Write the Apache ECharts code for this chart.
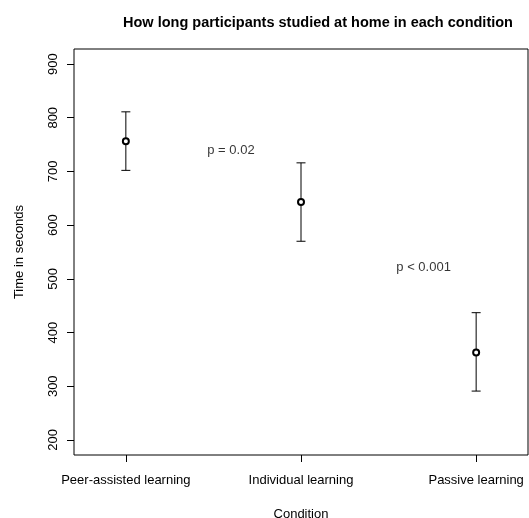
<!DOCTYPE html>
<html>
<head>
<meta charset="utf-8">
<script src="https://cdn.jsdelivr.net/npm/echarts@6/dist/echarts.min.js"></script>
<style>
  html, body { margin: 0; padding: 0; background: #fff; }
  #chart { width: 529px; height: 518px; }
</style>
</head>
<body>
<div id="chart"></div>
<script>
// Study time per condition: mean with lower/upper bounds
const conditions = ['Peer-assisted learning', 'Individual learning', 'Passive learning'];
const meanTime = [756, 643, 363];
const lowerTime = [702, 570, 291];
const upperTime = [811, 716, 437];
const yTicks = [200, 300, 400, 500, 600, 700, 800, 900];

// p-value annotations placed between conditions (x in condition units, y in seconds)
const pLabels = ['p = 0.02', 'p < 0.001'];
const pLabelX = [1.6, 2.7];
const pLabelY = [740, 521];

const FONT = 'Liberation Sans, Arial, sans-serif';
const chart = echarts.init(document.getElementById('chart'), null, { renderer: 'canvas' });

const xPos = conditions.map((_, i) => i + 1);

const option = {
  animation: false,
  backgroundColor: '#fff',
  textStyle: { fontFamily: FONT, color: '#000' },
  title: {
    text: 'How long participants studied at home in each condition',
    left: 313, top: 10, textAlign: 'center',
    textStyle: { fontFamily: FONT, fontSize: 14.5, fontWeight: 'bold', color: '#000' }
  },
  grid: {
    left: 74, right: 1, top: 49, bottom: 63,
    outerBoundsMode: 'none', containLabel: false,
    show: true, borderColor: '#000', borderWidth: 1, backgroundColor: 'transparent'
  },
  xAxis: {
    type: 'value', min: 0.704, max: 3.296,
    name: 'Condition', nameLocation: 'middle', nameGap: 53,
    nameTextStyle: { fontFamily: FONT, fontSize: 13, color: '#000' },
    axisLine: { show: false },
    splitLine: { show: false },
    axisTick: { show: true, length: 7, inside: false, customValues: xPos, lineStyle: { color: '#000', width: 1 } },
    axisLabel: {
      customValues: xPos, margin: 19, fontFamily: FONT, fontSize: 13, color: '#000',
      formatter: v => conditions[Math.round(v) - 1] || ''
    }
  },
  yAxis: {
    type: 'value', min: 172, max: 928,
    name: 'Time in seconds', nameLocation: 'middle', nameGap: 48, nameRotate: 90,
    nameTextStyle: { fontFamily: FONT, fontSize: 13, color: '#000' },
    axisLine: { show: false },
    splitLine: { show: false },
    axisTick: { show: true, length: 7, customValues: yTicks, lineStyle: { color: '#000', width: 1 } },
    axisLabel: {
      customValues: yTicks, rotate: 90, margin: 21, fontFamily: FONT, fontSize: 13, color: '#000',
      verticalAlign: 'middle', align: 'center'
    }
  },
  series: [
    {
      type: 'custom',
      name: 'range',
      data: xPos.map((x, i) => [x, lowerTime[i], upperTime[i]]),
      encode: { x: 0, y: [1, 2] },
      renderItem: function (params, api) {
        const x = api.value(0);
        const lo = api.coord([x, api.value(1)]);
        const hi = api.coord([x, api.value(2)]);
        const half = 4.5;
        const style = { stroke: '#000', lineWidth: 1 };
        return {
          type: 'group',
          children: [
            { type: 'line', shape: { x1: lo[0], y1: lo[1], x2: hi[0], y2: hi[1] }, style },
            { type: 'line', shape: { x1: hi[0] - half, y1: hi[1], x2: hi[0] + half, y2: hi[1] }, style },
            { type: 'line', shape: { x1: lo[0] - half, y1: lo[1], x2: lo[0] + half, y2: lo[1] }, style }
          ]
        };
      },
      z: 2
    },
    {
      type: 'scatter',
      name: 'mean',
      data: xPos.map((x, i) => [x, meanTime[i]]),
      symbol: 'circle', symbolSize: 6,
      itemStyle: { color: '#fff', borderColor: '#000', borderWidth: 2, opacity: 1 },
      z: 3
    },
    {
      type: 'scatter',
      name: 'p',
      data: pLabels.map((t, i) => ({ value: [pLabelX[i], pLabelY[i]], name: t })),
      symbolSize: 0,
      label: {
        show: true, position: 'inside', formatter: p => p.name,
        fontFamily: FONT, fontSize: 13, color: '#000'
      },
      z: 4
    }
  ]
};

chart.setOption(option);
</script>
</body>
</html>
